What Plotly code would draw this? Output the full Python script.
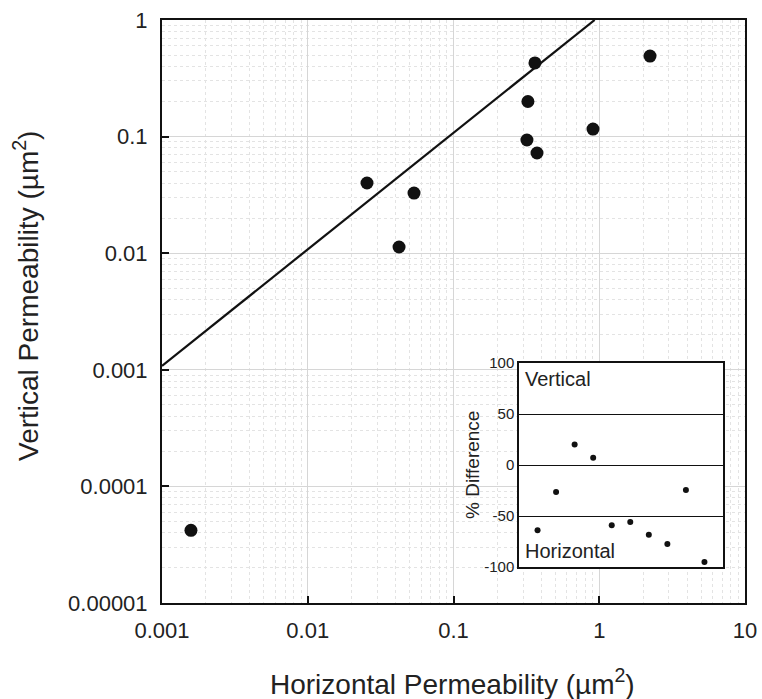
import plotly.graph_objects as go

# Main scatter data (µm²)
horizontal_perm = [0.00158, 0.0255, 0.0423, 0.0536, 0.362, 0.324, 0.319, 0.374, 0.906, 2.23]
vertical_perm = [4.2e-5, 0.040, 0.0113, 0.0328, 0.428, 0.20, 0.0935, 0.0723, 0.116, 0.49]

# Reference (approximately 1:1) line
line_x = [0.001, 0.93]
line_y = [0.00108, 1.0]

# Inset data
sample_index = [1, 2, 3, 4, 5, 6, 7, 8, 9, 10]
pct_difference = [-64, -26.5, 20, 7, -59, -56, -68.5, -77.5, -24.5, -95]

x_tickvals = [0.001, 0.01, 0.1, 1, 10]
x_ticktext = ["0.001", "0.01", "0.1", "1", "10"]
y_tickvals = [0.00001, 0.0001, 0.001, 0.01, 0.1, 1]
y_ticktext = ["0.00001", "0.0001", "0.001", "0.01", "0.1", "1"]
inset_tickvals = [-100, -50, 0, 50, 100]
inset_ticktext = ["-100", "-50", "0", "50", "100"]

FONT = "Liberation Sans, Arial, Helvetica, sans-serif"

fig = go.Figure()
fig.add_trace(go.Scatter(x=line_x, y=line_y, mode="lines",
                         line=dict(color="#111111", width=2.2), hoverinfo="skip",
                         showlegend=False, xaxis="x", yaxis="y"))
fig.add_trace(go.Scatter(x=horizontal_perm, y=vertical_perm, mode="markers",
                         marker=dict(color="#111111", size=13),
                         showlegend=False, xaxis="x", yaxis="y"))
fig.add_trace(go.Scatter(x=sample_index, y=pct_difference, mode="markers",
                         marker=dict(color="#111111", size=6),
                         showlegend=False, xaxis="x2", yaxis="y2"))

W, H = 762, 699
L, R, T, B = 162, 17, 20, 96
pw = W - L - R
ph = H - T - B

def px_x(p):
    return (p - L) / pw

def px_y(p):
    return (H - B - p) / ph

fig.update_layout(
    width=W, height=H,
    margin=dict(l=L, r=R, t=T, b=B, autoexpand=False),
    paper_bgcolor="white", plot_bgcolor="white",
    font=dict(family=FONT, color="#222222"),
    xaxis=dict(type="log", range=[-3, 1], domain=[0, 1], automargin=False,
               tickvals=x_tickvals, ticktext=x_ticktext,
               tickfont=dict(size=22), ticks="inside", ticklen=7, tickwidth=2,
               tickcolor="#111111", ticklabelstandoff=7,
               showline=True, linecolor="#111111", linewidth=2, mirror=True,
               showgrid=True, gridcolor="#d6d6d6", gridwidth=1,
               minor=dict(tickvals=[m * 10 ** e for e in range(-3, 1) for m in range(2, 10)],
                          showgrid=True, gridcolor="#e3e3e3", griddash="dot", gridwidth=1,
                          ticks=""),
               zeroline=False),
    yaxis=dict(type="log", range=[-5, 0], domain=[0, 1], automargin=False,
               tickvals=y_tickvals, ticktext=y_ticktext,
               tickfont=dict(size=22), ticks="inside", ticklen=7, tickwidth=2,
               tickcolor="#111111", ticklabelstandoff=8,
               showline=True, linecolor="#111111", linewidth=2, mirror=True,
               showgrid=True, gridcolor="#d6d6d6", gridwidth=1,
               minor=dict(tickvals=[m * 10 ** e for e in range(-5, 0) for m in range(2, 10)],
                          showgrid=True, gridcolor="#e3e3e3", griddash="dot", gridwidth=1,
                          ticks=""),
               zeroline=False),
    xaxis2=dict(domain=[px_x(519), px_x(723)], anchor="y2", range=[0, 11], automargin=False,
                showticklabels=False, ticks="", showgrid=False, zeroline=False,
                showline=True, linecolor="#111111", linewidth=1.5, mirror=True),
    yaxis2=dict(domain=[px_y(567), px_y(363)], anchor="x2", range=[-100, 100], automargin=False,
                tickvals=inset_tickvals, ticktext=inset_ticktext,
                tickfont=dict(size=15), ticks="", ticklen=0,
                showgrid=True, gridcolor="#111111", gridwidth=1, zeroline=False,
                showline=True, linecolor="#111111", linewidth=1.5, mirror=True),
    annotations=[
        dict(text="Horizontal Permeability (µm<sup>2</sup>)", xref="paper", yref="paper",
             x=px_x(452), y=px_y(682), xanchor="center", yanchor="middle",
             showarrow=False, font=dict(size=28, family=FONT, color="#222222")),
        dict(text="Vertical Permeability (µm<sup>2</sup>)", xref="paper", yref="paper",
             x=px_x(26), y=px_y(296), xanchor="center", yanchor="middle", textangle=-90,
             showarrow=False, font=dict(size=28, family=FONT, color="#222222")),
        dict(text="% Difference", xref="paper", yref="paper",
             x=px_x(472), y=px_y(465), xanchor="center", yanchor="middle", textangle=-90,
             showarrow=False, font=dict(size=19, family=FONT, color="#222222")),
        dict(text="Vertical", xref="paper", yref="paper",
             x=px_x(523), y=px_y(379), xanchor="left", yanchor="middle",
             showarrow=False, font=dict(size=20, family=FONT, color="#222222")),
        dict(text="Horizontal", xref="paper", yref="paper",
             x=px_x(523), y=px_y(551), xanchor="left", yanchor="middle",
             showarrow=False, font=dict(size=20, family=FONT, color="#222222")),
    ],
)

fig.write_html("out.html")
